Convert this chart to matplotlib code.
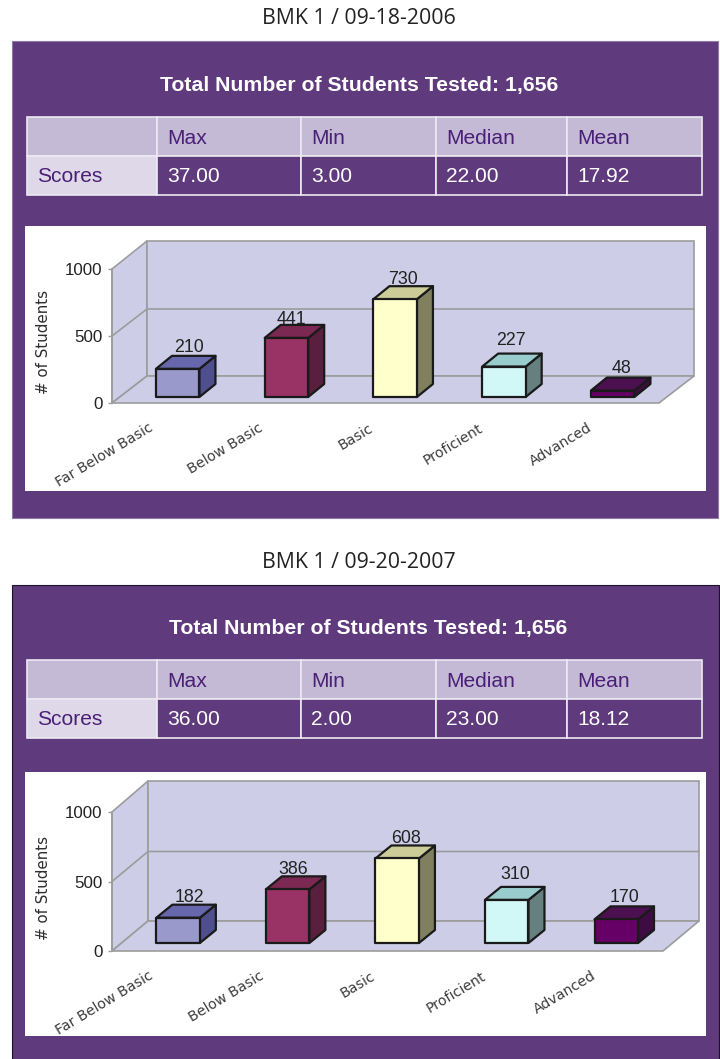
"""Benchmark score summary panels with pseudo-3D bar charts."""
import matplotlib
matplotlib.use('Agg')
import matplotlib.pyplot as plt
from matplotlib.patches import Polygon, Rectangle

W, H = 720, 1059

CATEGORIES = ['Far Below Basic', 'Below Basic', 'Basic', 'Proficient', 'Advanced']
TABLE_HEADERS = ['Max', 'Min', 'Median', 'Mean']
ROW_LABEL = 'Scores'
Y_TICKS = [0, 500, 1000]

HEADING_2006 = 'BMK 1 / 09-18-2006'
HEADING_2007 = 'BMK 1 / 09-20-2007'
TOTAL_2006 = 'Total Number of Students Tested: 1,656'
TOTAL_2007 = 'Total Number of Students Tested: 1,656'
SCORES_2006 = ['37.00', '3.00', '22.00', '17.92']
SCORES_2007 = ['36.00', '2.00', '23.00', '18.12']
COUNTS_2006 = [210, 441, 730, 227, 48]
COUNTS_2007 = [182, 386, 608, 310, 170]

PURPLE = '#5F3A7D'
TEXT_PURPLE = '#4A1F77'
WALL = '#CDCDE7'
GRID = '#9C9C9C'
# front, top, side of each bar
BAR_COLORS = [
    ('#9999CC', '#6767AE', '#4F4F8E'),
    ('#993366', '#7B2852', '#5A1E3E'),
    ('#FFFFCC', '#CCCC99', '#80805F'),
    ('#D2F7F7', '#99CCCC', '#668080'),
    ('#660066', '#4C0F50', '#3E0C42'),
]

plt.rcParams['font.family'] = ['Liberation Sans', 'DejaVu Sans']

fig = plt.figure(figsize=(W / 100, H / 100), dpi=100, facecolor='white')
bg = fig.add_axes([0, 0, 1, 1])
bg.set_xlim(0, W)
bg.set_ylim(H, 0)
bg.axis('off')


def draw_table(top, total, total_x, total_y, scores, left=27):
    """Title line plus the 2x5 score table, all in pixel coordinates of bg."""
    bg.text(total_x, total_y, total, color='white', fontsize=15.3, fontweight='bold',
            ha='center', va='center')
    col_x = [left, 157, 301, 436, 567, left + 675]
    rows = [top, top + 39, top + 78]
    for r in range(2):
        for c in range(5):
            if r == 0:
                face = '#C4BAD5'
            else:
                face = '#DFD8E8' if c == 0 else PURPLE
            bg.add_patch(Rectangle((col_x[c], rows[r]), col_x[c + 1] - col_x[c], rows[r + 1] - rows[r],
                                   facecolor=face, edgecolor='#EDE9F2', linewidth=1.2))
    for c, label in enumerate(TABLE_HEADERS):
        bg.text(col_x[c + 1] + 10, rows[0] + 21.5, label, color=TEXT_PURPLE, fontsize=15.1,
                ha='left', va='center')
        bg.text(col_x[c + 1] + 10, rows[1] + 20.5, scores[c], color='white', fontsize=15.1,
                ha='left', va='center')
    bg.text(left + 10, rows[1] + 20.5, ROW_LABEL, color=TEXT_PURPLE, fontsize=15.1, ha='left', va='center')


def draw_chart(x0, x1, y0, y1000, base_px, lead_px, depth, counts, label_off, xlab_y, bar_w=43.5):
    """Front plane axes spans x0..x1 and y0..y1000, everything else hangs off its scales."""
    ax = fig.add_axes([x0 / W, 1 - y0 / H, (x1 - x0) / W, (y0 - y1000) / H])
    ax.set_xlim(-0.5, 4.5)
    ax.set_ylim(0, 1000)
    ax.patch.set_visible(False)
    for side in ['top', 'right', 'bottom']:
        ax.spines[side].set_visible(False)
    ax.spines['left'].set_color(GRID)
    ax.spines['left'].set_linewidth(1.2)

    px_x = 5 / (x1 - x0)
    px_y = 1000 / (y0 - y1000)
    dx, dy = depth[0] * px_x, depth[1] * px_y
    l, r = -0.5, 4.5
    top = 1000 + (depth[1] + 1) * px_y

    ax.add_patch(Polygon([(l, 0), (l, 1000), (l + dx, top), (l + dx, dy)], facecolor=WALL, edgecolor=GRID,
                         linewidth=1.2, clip_on=False, zorder=1))
    ax.add_patch(Polygon([(l + dx, dy), (l + dx, top), (r + dx, top), (r + dx, dy)], facecolor=WALL,
                         edgecolor=GRID, linewidth=1.2, clip_on=False, zorder=1))
    ax.add_patch(Polygon([(l, 0), (l + dx, dy), (r + dx, dy), (r, 0)], facecolor=WALL, edgecolor=GRID,
                         linewidth=1.2, clip_on=False, zorder=1))
    ax.plot([l, l + dx, r + dx], [500, 500 + dy, 500 + dy], color=GRID, linewidth=1.2, clip_on=False, zorder=2)

    # bars: front face lifted off the floor front edge, side and top faces pushed back
    bw = bar_w * px_x
    bdx = 16 * px_x
    bdy = 13 * px_y
    base = base_px * px_y
    for i, v in enumerate(counts):
        pos = i * 0.994 + lead_px * px_x
        a = pos - bw / 2
        b = a + bw
        t = base + v
        front, top_c, side = BAR_COLORS[i]
        kw = dict(edgecolor='#1A1A1A', linewidth=1.6, clip_on=False, joinstyle='round', zorder=3)
        ax.add_patch(Polygon([(b, base), (b + bdx, base + bdy), (b + bdx, t + bdy), (b, t)], facecolor=side, **kw))
        ax.add_patch(Polygon([(a, t), (b, t), (b + bdx, t + bdy), (a + bdx, t + bdy)], facecolor=top_c, **kw))
        ax.add_patch(Rectangle((a, base), bw, v, facecolor=front, **kw))
        ox, oy = label_off[i]
        ax.annotate(str(v), xy=(pos, t + bdy), xytext=((ox + 0.5) * 0.72, -(oy + 1) * 0.72),
                    textcoords='offset points', ha='center', va='center', fontsize=12.8, color='#222222',
                    zorder=4)

    ax.set_yticks(Y_TICKS)
    ax.tick_params(axis='y', length=3, width=1, color=GRID, pad=4, labelsize=12.2, labelcolor='#222222')
    ax.set_xticks([])

    for i, name in enumerate(CATEGORIES):
        ax.annotate(name, xy=(i, 0), xytext=((-15 + 0.5 * i) * 0.72, -(xlab_y - y0) * 0.72),
                    textcoords='offset points', rotation=31, rotation_mode='anchor', ha='right', va='center',
                    fontsize=10.2, family=['DejaVu Sans'], color='#3C3C3C', annotation_clip=False)
    bg.text(43, (y0 + y1000) / 2 + 6, '# of Students', rotation=90, ha='center', va='center', fontsize=10.9,
            family=['DejaVu Sans'], color='#2E2E2E')


# 2006 panel
bg.text(359, 18.5, HEADING_2006, family=['Open Sans', 'DejaVu Sans'], fontsize=15.3, color='#222222',
        ha='center', va='center')
bg.add_patch(Rectangle((12, 41), 706, 477, facecolor=PURPLE, edgecolor='#8E7AA4', linewidth=0.8))
draw_table(117, TOTAL_2006, 359, 85.5, SCORES_2006)
bg.add_patch(Rectangle((25, 226), 681, 265, facecolor='white', edgecolor='none'))
draw_chart(112, 659, 403, 269, 6, 11, (35, 27), COUNTS_2006,
           [(11, -9), (4, -6), (7, -8), (7, -14), (8, -10)], 427)

# 2007 panel
bg.text(359, 562.5, HEADING_2007, family=['Open Sans', 'DejaVu Sans'], fontsize=15.3, color='#222222',
        ha='center', va='center')
bg.add_patch(Rectangle((12, 585), 707, 480, facecolor=PURPLE, edgecolor='#1E1228', linewidth=0.8))
draw_table(660, TOTAL_2007, 368, 628.5, SCORES_2007)
bg.add_patch(Rectangle((25, 772), 681, 264, facecolor='white', edgecolor='none'))
draw_chart(112, 663, 951, 812, 8, 11, (36, 30), COUNTS_2007,
           [(11, -8), (5, -8), (8, -8), (8, -13), (8, -10)], 975)

fig.savefig('out.png', dpi=100)
